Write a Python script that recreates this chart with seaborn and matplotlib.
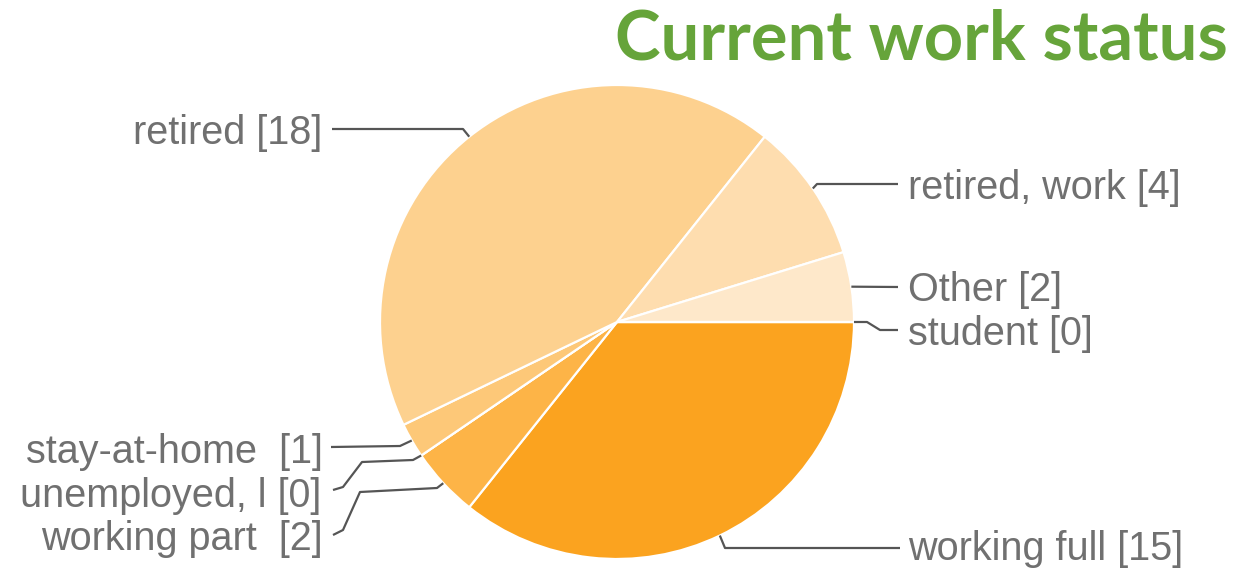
import numpy as np
import matplotlib.pyplot as plt
import seaborn as sns

categories = ['working full', 'working part ', 'unemployed, l', 'stay-at-home ',
              'retired', 'retired, work', 'Other', 'student']
counts = [15, 2, 0, 1, 18, 4, 2, 0]
colors = ['#FBA31F', '#FDB447', '#FDBE5C', '#FDC878',
          '#FDD18F', '#FEDDAF', '#FEE8CA', '#FEF0DC']

# label layout in pixel coords: text x, text y, align, elbow points of the leader
layout = {
    'working full':  (908, 549, 'left',  [(725, 548), (900, 548)]),
    'working part ': (323, 539, 'right', [(437, 488), (360, 492), (343, 530), (333, 535)]),
    'unemployed, l': (321, 496, 'right', [(413, 460), (362, 462), (343, 487), (333, 490)]),
    'stay-at-home ': (323, 452, 'right', [(400, 446), (331, 447)]),
    'retired':       (322, 133, 'right', [(463, 129), (332, 129)]),
    'retired, work': (908, 188, 'left',  [(817, 184), (898, 184)]),
    'Other':         (908, 290, 'left',  [(898, 287)]),
    'student':       (908, 334, 'left',  [(867, 322), (880, 330), (898, 330)]),
}

W, H = 1237, 570
cx, cy, r = 617, 322, 237

sns.set_theme(style='white')
plt.rcParams['font.family'] = ['Liberation Sans', 'DejaVu Sans']

fig = plt.figure(figsize=(W / 100, H / 100), dpi=100)
ax = fig.add_axes([0, 0, 1, 1])

wedges, _ = ax.pie(counts, colors=colors, startangle=0, counterclock=False,
                   center=(cx, H - cy), radius=r,
                   wedgeprops=dict(edgecolor='white', linewidth=1.6))

ax.set_xlim(0, W)
ax.set_ylim(0, H)
ax.set_aspect('equal')
ax.axis('off')

for w, cat, n in zip(wedges, categories, counts):
    tx, ty, ha, pts = layout[cat]
    mid = np.deg2rad((w.theta1 + w.theta2) / 2)
    xs = [cx + r * np.cos(mid)] + [p[0] for p in pts]
    ys = [H - cy + r * np.sin(mid)] + [H - p[1] for p in pts]
    ax.plot(xs, ys, color='#555555', lw=1.6, solid_capstyle='butt')
    ax.text(tx, H - ty, f'{cat} [{n}]', ha=ha, va='center',
            fontsize=28.5, color='#707070')

ax.text(1228, H - 40, 'Current work status', ha='right', va='center',
        fontsize=49.5, fontweight='bold', color='#66A43A', family='Lato')

plt.savefig('out.png', dpi=100)
